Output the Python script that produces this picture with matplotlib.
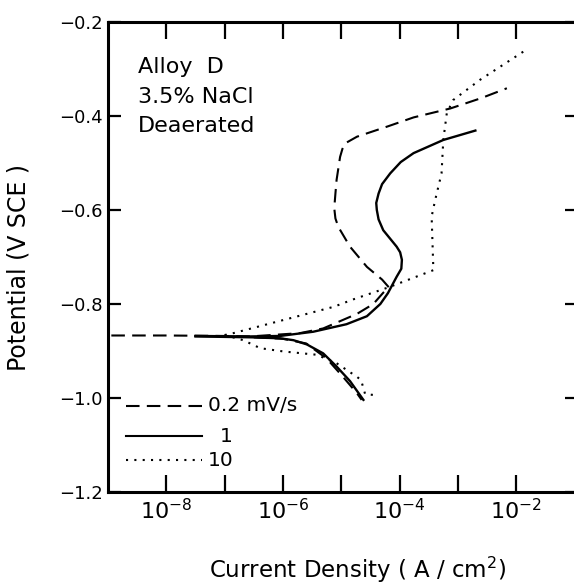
import numpy as np
import matplotlib
matplotlib.use('Agg')
import matplotlib.pyplot as plt
from matplotlib.ticker import NullLocator, FixedLocator, FixedFormatter

plt.rcParams.update({
    'font.family': 'DejaVu Sans',
    'axes.linewidth': 2.2,
    'xtick.major.width': 1.6,
    'ytick.major.width': 1.6,
})

# log10 of current density (A/cm2) and potential (V SCE)
# 0.2 mV/s
logi_slow_an = [-9.3, -8.0, -7.0, -6.56, -5.71, -5.31, -4.73, -4.45, -4.28, -4.18,
                -4.30, -4.56, -4.85, -5.05, -5.10, -5.12, -5.10, -5.08, -5.02, -4.98,
                -4.93, -4.73, -4.20, -3.76, -3.13, -2.60, -2.16]
E_slow_an = [-0.867, -0.867, -0.868, -0.869, -0.862, -0.852, -0.821, -0.800, -0.776, -0.765,
             -0.748, -0.721, -0.678, -0.636, -0.618, -0.596, -0.565, -0.536, -0.487, -0.470,
             -0.458, -0.444, -0.422, -0.403, -0.384, -0.362, -0.341]
logi_slow_ca = [-6.5, -6.0, -5.6, -5.25, -4.97, -4.73, -4.65]
E_slow_ca = [-0.871, -0.874, -0.884, -0.916, -0.955, -0.990, -1.004]

# 1 mV/s
logi_mid_an = [-7.5, -6.56, -6.05, -5.48, -4.91, -4.56, -4.33, -4.20, -4.05, -3.97, -3.96,
               -3.99, -4.05, -4.28, -4.36, -4.39, -4.40, -4.36, -4.30, -4.16, -3.98,
               -3.76, -3.25, -2.70]
E_mid_an = [-0.868, -0.869, -0.868, -0.859, -0.843, -0.826, -0.800, -0.777, -0.742, -0.725, -0.706,
            -0.690, -0.678, -0.643, -0.620, -0.600, -0.585, -0.565, -0.545, -0.522, -0.498,
            -0.479, -0.451, -0.431]
logi_mid_ca = [-7.5, -6.5, -6.05, -5.82, -5.59, -5.31, -5.08, -4.85, -4.62]
E_mid_ca = [-0.869, -0.871, -0.873, -0.877, -0.886, -0.905, -0.933, -0.964, -1.004]

# 10 mV/s
logi_fast_an = [-7.0, -6.85, -5.99, -5.13, -4.79, -4.20, -3.42, -3.45, -3.39, -3.28,
                -3.25, -3.19, -3.08, -2.62, -1.79]
E_fast_an = [-0.866, -0.862, -0.834, -0.806, -0.790, -0.765, -0.728, -0.614, -0.579, -0.522,
             -0.451, -0.394, -0.366, -0.323, -0.256]
logi_fast_ca = [-7.0, -6.68, -6.39, -5.99, -5.42, -5.08, -4.73, -4.66, -4.59, -4.39]
E_fast_ca = [-0.866, -0.877, -0.894, -0.901, -0.908, -0.926, -0.955, -0.962, -0.992, -0.994]

xtick_pos = [-8, -7, -6, -5, -4, -3, -2]
xtick_lab = ['$10^{-8}$', '', '$10^{-6}$', '', '$10^{-4}$', '', '$10^{-2}$']
ytick_pos = [-1.2, -1.0, -0.8, -0.6, -0.4, -0.2]

fig = plt.figure(figsize=(5.74, 5.84), dpi=100)
ax = fig.add_axes([108/574, 92/584, 470/574, 470/584])

dash = (0, (6.5, 3.5))
dot = (0, (1, 3))
lw = 1.5
for li, E in [(logi_slow_an, E_slow_an), (logi_slow_ca, E_slow_ca)]:
    ax.plot(10**np.array(li), E, color='black', lw=lw, linestyle=dash)
for li, E in [(logi_mid_an, E_mid_an), (logi_mid_ca, E_mid_ca)]:
    ax.plot(10**np.array(li), E, color='black', lw=lw + 0.2, linestyle='-')
for li, E in [(logi_fast_an, E_fast_an), (logi_fast_ca, E_fast_ca)]:
    ax.plot(10**np.array(li), E, color='black', lw=lw, linestyle=dot)

ax.set_xscale('log')
ax.set_xlim(1e-9, 10**-0.94)
ax.set_ylim(-1.2, -0.2)
ax.xaxis.set_major_locator(FixedLocator([10.0**p for p in xtick_pos]))
ax.xaxis.set_major_formatter(FixedFormatter(xtick_lab))
ax.xaxis.set_minor_locator(NullLocator())
ax.set_yticks(ytick_pos)
ax.set_yticklabels(['\u22121.2', '\u22121.0', '\u22120.8', '\u22120.6', '\u22120.4', '\u22120.2'])

ax.tick_params(axis='x', which='major', direction='in', top=True, length=12.5,
               labelsize=16, pad=4)
ax.tick_params(axis='y', which='major', direction='in', right=True, length=9.5,
               labelsize=13, pad=4)

ax.set_xlabel('Current Density ( A / cm$^{2}$)', fontsize=16.5, va='top')
ax.xaxis.set_label_coords(0.532, -0.134)
ax.set_ylabel('Potential (V SCE )', fontsize=17)
ax.yaxis.set_label_coords(-0.165, 0.477)

# annotation
ax.text(0.064, 0.891, 'Alloy  D', transform=ax.transAxes, fontsize=16, va='baseline')
ax.text(0.064, 0.828, '3.5% NaCl', transform=ax.transAxes, fontsize=16, va='baseline')
ax.text(0.064, 0.766, 'Deaerated', transform=ax.transAxes, fontsize=16, va='baseline')

# hand-drawn style key
key_y = [0.183, 0.119, 0.068]
key_ls = [dash, '-', dot]
for yk, ls in zip(key_y, key_ls):
    ax.plot([0.038, 0.2], [yk, yk], transform=ax.transAxes, color='black',
            lw=lw, linestyle=ls)
ax.text(0.213, key_y[0], '0.2 mV/s', transform=ax.transAxes, fontsize=14.5, va='center')
ax.text(0.266, key_y[1], '1', transform=ax.transAxes, fontsize=14.5, va='center', ha='right')
ax.text(0.268, key_y[2], '10', transform=ax.transAxes, fontsize=14.5, va='center', ha='right')

fig.savefig('out.png', dpi=100)
